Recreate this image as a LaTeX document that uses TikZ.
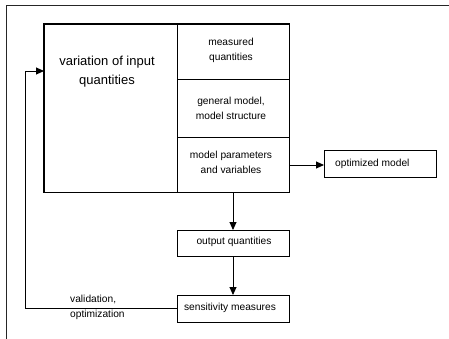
\documentclass[tikz,border=0pt]{standalone}
\usepackage{fontspec}
\setmainfont{Liberation Sans}
\usetikzlibrary{arrows.meta}
\begin{document}
\begin{tikzpicture}[x=1pt,y=-1pt,
  smalltxt/.style={font=\fontsize{10.2}{15}\selectfont, align=center, inner sep=0pt},
  bigtxt/.style={font=\fontsize{13}{19}\selectfont, align=center, inner sep=0pt},
  cell/.style={draw, line width=0.9pt, inner sep=0pt},
  thinbox/.style={draw, line width=0.9pt, minimum height=0pt, inner sep=0pt},
  conn/.style={line width=0.9pt, -{Triangle[length=8pt,width=7pt]}}]
\useasboundingbox (0,0) rectangle (449,339);
% partial frame
\draw[line width=1.5pt, black!85] (449,5.5) -- (6.5,5.5) -- (6.5,339);
% main box
\node[minimum width=245pt, minimum height=168pt, inner sep=0pt, anchor=north west] (main) at (44,24) {};
\node[cell, minimum width=112.5pt, minimum height=55.3pt, anchor=north west] (meas) at (176.5,24) {};
\node[cell, minimum width=112.5pt, minimum height=57.4pt, anchor=north west] (gen) at (176.5,79.3) {};
\node[cell, minimum width=112.5pt, minimum height=55.3pt, anchor=north west] (par) at (176.5,136.7) {};
\draw[line width=1.8pt] (main.north west) rectangle (main.south east);
\node[bigtxt] (vartxt) at (107,71.2) {variation of input\\quantities};
\node[smalltxt] (meastxt) at (231,50) {measured\\quantities};
\node[smalltxt] (gentxt) at (231,108.5) {general model,\\model structure};
\node[smalltxt] (partxt) at (231,162) {model parameters\\and variables};
% other boxes
\node[thinbox, minimum width=112pt, minimum height=27pt, anchor=north west] (opt) at (324,150) {};
\node[smalltxt, anchor=west] (opttxt) at (335,163.5) {optimized model};
\node[thinbox, minimum width=112.5pt, minimum height=26pt, anchor=north west] (out) at (176.5,230) {};
\node[smalltxt] (outtxt) at (234,242) {output quantities};
\node[thinbox, minimum width=112.5pt, minimum height=27pt, anchor=north west] (sens) at (176.5,295) {};
\node[smalltxt] (senstxt) at (230,308) {sensitivity measures};
% connectors
\coordinate (pr) at (289,165);
\draw[conn] (pr) -- (opt.west |- pr);
\coordinate (mb) at (233,192);
\draw[conn] (mb) -- (out.north -| mb);
\coordinate (ob) at (233,256);
\draw[conn] (ob) -- (sens.north -| ob);
\coordinate (fb1) at (25,308);
\coordinate (fb2) at (25,71);
\draw[conn] (sens.west |- fb1) -- (fb1) -- (fb2) -- (main.west |- fb2);
\node[smalltxt, align=left, anchor=west] (vallbl) at (70,307.5) {validation,\\optimization};
\end{tikzpicture}
\end{document}
